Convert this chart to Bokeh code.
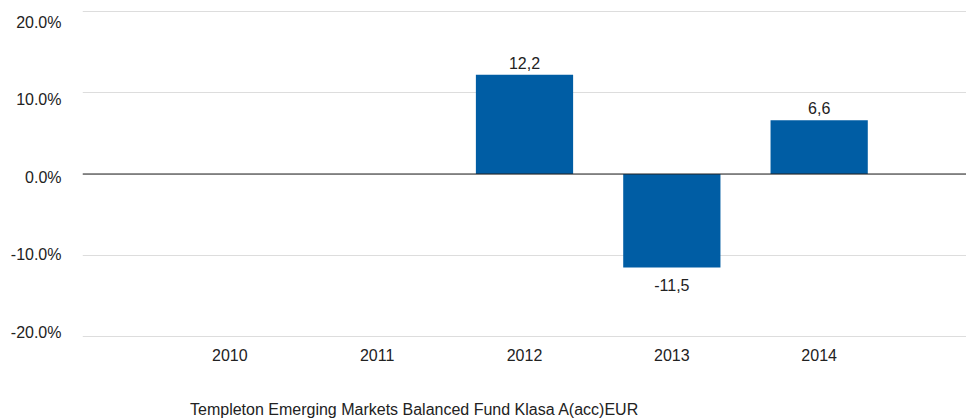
from bokeh.plotting import figure
from bokeh.layouts import column
from bokeh.models import (FactorRange, Range1d, LinearAxis, FixedTicker, PrintfTickFormatter,
                          Grid, Span, ColumnDataSource, Legend, LegendItem)
from bokeh.core.properties import value
from bokeh.embed import file_html
from bokeh.resources import INLINE

years = ["2010", "2011", "2012", "2013", "2014"]
returns = [None, None, 12.2, -11.5, 6.6]
series_name = "Templeton Emerging Markets Balanced Fund Klasa A(acc)EUR"
y_ticks = [-20, -10, 0, 10, 20]

FONT = "Liberation Sans"
FS = "16px"
BAR = "#005DA4"

xs = [y for y, v in zip(years, returns) if v is not None]
vs = [v for v in returns if v is not None]
labels = [f"{v:.1f}".replace(".", ",") for v in vs]
src = ColumnDataSource(dict(x=xs, top=vs, lab=labels))
pos = ColumnDataSource(dict(x=[x for x, v in zip(xs, vs) if v >= 0],
                            y=[v for v in vs if v >= 0],
                            lab=[l for l, v in zip(labels, vs) if v >= 0]))
neg = ColumnDataSource(dict(x=[x for x, v in zip(xs, vs) if v < 0],
                            y=[v for v in vs if v < 0],
                            lab=[l for l, v in zip(labels, vs) if v < 0]))

p = figure(width=966, height=390, output_backend="svg", toolbar_location=None,
           x_range=FactorRange(factors=years, range_padding=0.2),
           y_range=Range1d(-20.12, 20.12), y_axis_location=None,
           min_border_left=82, min_border_right=0, min_border_top=10, min_border_bottom=53)
p.outline_line_color = None
for g in p.grid:
    g.visible = False

p.extra_y_ranges = {"lab": Range1d(-20.7, 21.55)}
ax = LinearAxis(y_range_name="lab", ticker=FixedTicker(ticks=y_ticks),
                formatter=PrintfTickFormatter(format="%.1f%%"))
ax.axis_line_color = None
ax.major_tick_line_color = None
ax.minor_tick_line_color = None
ax.major_tick_out = 0
ax.major_tick_in = 0
ax.major_label_standoff = 21
ax.major_label_text_font = FONT
ax.major_label_text_font_size = FS
ax.major_label_text_color = "#222222"
p.add_layout(ax, "left")

p.add_layout(Grid(dimension=1, ticker=FixedTicker(ticks=y_ticks),
                  grid_line_color="#dddddd", grid_line_width=1))

xa = p.xaxis[0]
xa.axis_line_color = None
xa.major_tick_line_color = None
xa.minor_tick_line_color = None
xa.major_tick_out = 0
xa.major_tick_in = 0
xa.major_label_standoff = 11
xa.major_label_text_font = FONT
xa.major_label_text_font_size = FS
xa.major_label_text_color = "#222222"

p.vbar(x="x", top="top", bottom=0, width=0.66, source=src,
       fill_color=BAR, line_color=None)

p.add_layout(Span(location=0, dimension="width", line_color="#222222", line_width=1))

p.text(x="x", y="y", text="lab", source=pos, text_align="center", text_baseline="bottom",
       y_offset=-6, text_font=value(FONT), text_font_size=FS, text_color="#222222")
p.text(x="x", y="y", text="lab", source=neg, text_align="center", text_baseline="top",
       y_offset=12, text_font=value(FONT), text_font_size=FS, text_color="#222222")

# legend strip below the chart
lg = figure(width=966, height=29, output_backend="svg", toolbar_location=None,
            x_axis_location=None, y_axis_location=None,
            min_border_left=0, min_border_right=0, min_border_top=0, min_border_bottom=0)
lg.outline_line_color = None
for g in lg.grid:
    g.visible = False
proxy = lg.quad(left=[], right=[], top=[], bottom=[], fill_color=BAR, line_color=None)

legend = Legend(items=[LegendItem(label=series_name, renderers=[proxy])],
                location=(82, 0), orientation="horizontal",
                glyph_width=12, glyph_height=12, label_standoff=14,
                padding=0, margin=0, spacing=0, label_height=12,
                label_text_font=FONT, label_text_font_size=FS,
                label_text_color="#222222", border_line_color=None,
                background_fill_alpha=0)
lg.add_layout(legend, "center")

layout = column(p, lg, spacing=0)
open("out.html", "w").write(file_html(layout, INLINE))
